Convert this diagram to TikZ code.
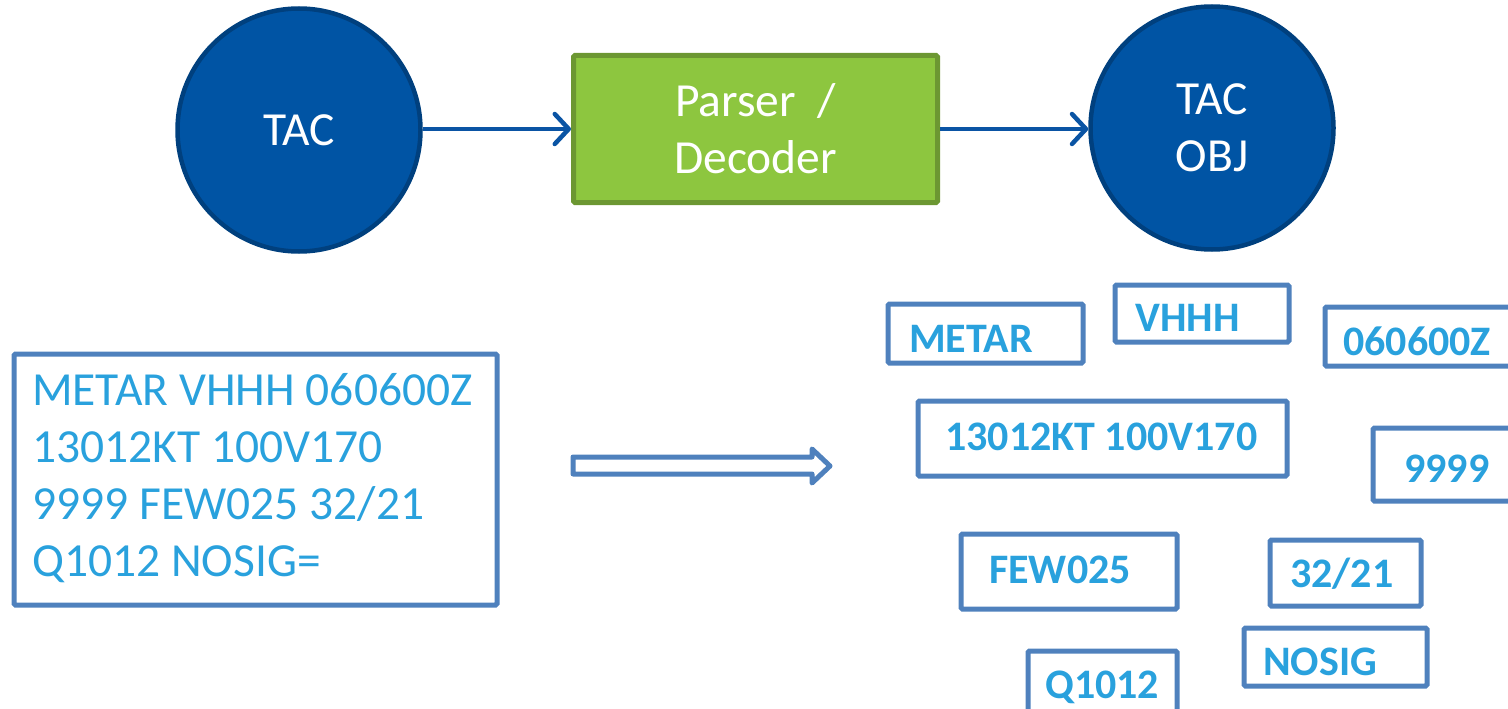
\documentclass[tikz,border=0pt]{standalone}
\usepackage{fontspec}
\setmainfont{Carlito}
\usetikzlibrary{arrows.meta}
\definecolor{circfill}{RGB}{0,84,164}
\definecolor{circline}{RGB}{0,64,126}
\definecolor{parfill}{RGB}{141,198,63}
\definecolor{parline}{RGB}{108,151,50}
\definecolor{boxline}{RGB}{79,129,189}
\definecolor{tokentext}{RGB}{41,161,221}
\definecolor{arrowblue}{RGB}{10,84,164}
\begin{document}
\begin{tikzpicture}[x=1pt,y=-1pt,
  circ/.style={circle, fill=circfill, draw=circline, line width=4.5pt, minimum size=243pt, inner sep=0pt, text=white, align=center, font=\fontsize{47.5}{57}\selectfont},
  proc/.style={rectangle, fill=parfill, draw=parline, line width=5pt, rounded corners=1.5pt, minimum width=364pt, minimum height=147pt, inner sep=0pt, text=white, align=center, font=\fontsize{47.5}{57}\selectfont},
  tokbox/.style={rectangle, draw=boxline, line width=5pt, rounded corners=1.5pt, inner sep=0pt},
  toktxt/.style={inner sep=0pt, anchor=base west, text=tokentext, font=\fontsize{42}{50}\bfseries\selectfont},
  flow/.style={draw=arrowblue, line width=4.5pt, -{Straight Barb[length=14pt,width=30pt,round]}},
  hollow/.style={draw=boxline, line width=5pt, line join=round, fill=white}
]
\useasboundingbox (0,0) rectangle (1508,709);
\clip (0,0) rectangle (1508,709);

% top row
\node[circ, text depth=0pt] (tac) at (299,130) {TAC};
\node[proc] (parser) at (755.5,129) {Parser\ \ /\\Decoder};
\node[circ] (obj) at (1212,128) {TAC\\OBJ};
\draw[flow] (tac.east |- 0,129) -- (parser.west);
\draw[flow] (parser.east) -- (obj.west |- parser.east);

% raw message
\node[tokbox, minimum width=483pt, minimum height=251pt] (raw) at (255.5,479.5) {};
\node[inner sep=0pt, anchor=base west, text=tokentext, align=left, font=\fontsize{47.5}{57}\selectfont] (rawtxt) at (32,576) {METAR VHHH 060600Z\\13012KT 100V170\\9999 FEW025 32/21\\Q1012 NOSIG=};

% hollow arrow
\draw[hollow] (573,457) -- (812,457) -- (812,449) -- (830,466) -- (812,483) -- (812,474) -- (573,474) -- cycle;

% tokens
\node[tokbox, minimum width=195pt, minimum height=59pt] (b1) at (985.5,333.5) {};
\node[toktxt] (t1) at (909,352) {METAR};
\node[tokbox, minimum width=174pt, minimum height=57pt] (b2) at (1202,313.5) {};
\node[toktxt] (t2) at (1135,331) {VHHH};
\node[tokbox, minimum width=205pt, minimum height=59pt] (b3) at (1427.5,336.5) {};
\node[toktxt] (t3) at (1343,355) {060600Z};
\node[tokbox, minimum width=369pt, minimum height=75pt] (b4) at (1102.5,438.5) {};
\node[toktxt] (t4) at (945,450) {13012KT 100V170};
\node[tokbox, minimum width=157pt, minimum height=73pt] (b5) at (1451.5,464.5) {};
\node[toktxt] (t5) at (1404,482) {9999};
\node[tokbox, minimum width=216pt, minimum height=75pt] (b6) at (1069,571.5) {};
\node[toktxt] (t6) at (989,583) {FEW025};
\node[tokbox, minimum width=151pt, minimum height=66pt] (b7) at (1345.5,573) {};
\node[toktxt] (t7) at (1290,587) {32/21};
\node[tokbox, minimum width=183pt, minimum height=58pt] (b8) at (1335.5,657) {};
\node[toktxt] (t8) at (1263,675) {NOSIG};
\node[tokbox, minimum width=149pt, minimum height=79pt] (b9) at (1102.5,690.5) {};
\node[toktxt] (t9) at (1045,698) {Q1012};
\end{tikzpicture}
\end{document}
